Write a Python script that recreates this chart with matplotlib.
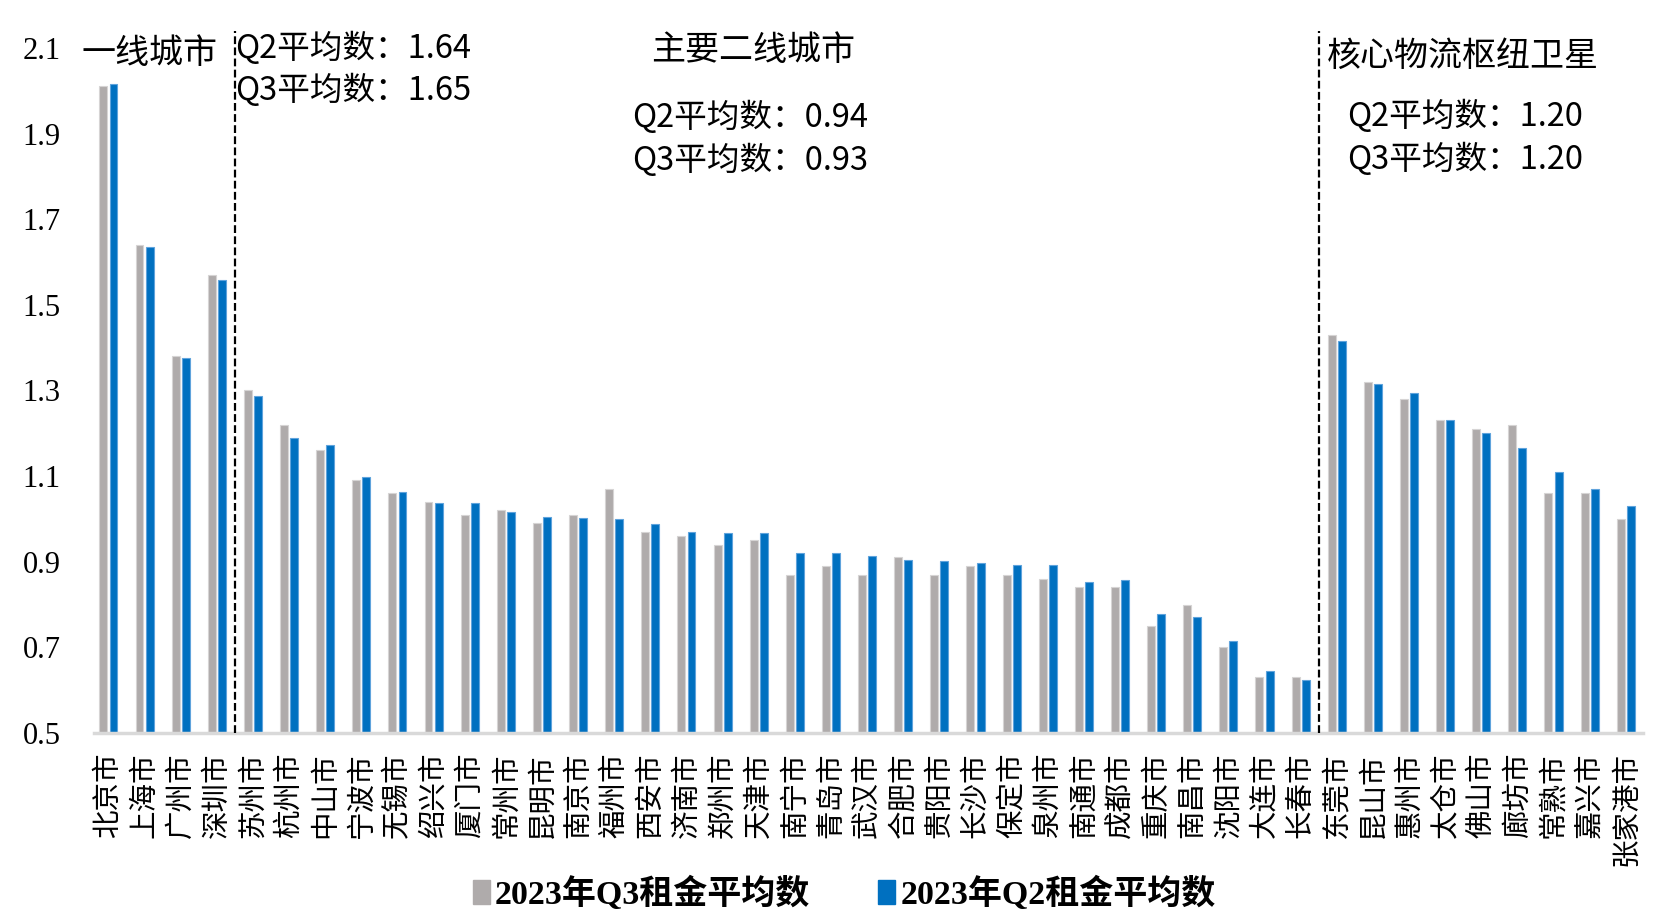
import matplotlib
matplotlib.use("Agg")
import matplotlib.pyplot as plt
import numpy as np
from matplotlib.patches import Patch

cities = ["北京市", "上海市", "广州市", "深圳市",
          "苏州市", "杭州市", "中山市", "宁波市", "无锡市", "绍兴市", "厦门市", "常州市",
          "昆明市", "南京市", "福州市", "西安市", "济南市", "郑州市", "天津市", "南宁市",
          "青岛市", "武汉市", "合肥市", "贵阳市", "长沙市", "保定市", "泉州市", "南通市",
          "成都市", "重庆市", "南昌市", "沈阳市", "大连市", "长春市",
          "东莞市", "昆山市", "惠州市", "太仓市", "佛山市", "廊坊市", "常熟市", "嘉兴市", "张家港市"]

q3 = [2.01, 1.64, 1.38, 1.57,
      1.30, 1.22, 1.16, 1.09, 1.06, 1.04, 1.01, 1.02,
      0.99, 1.01, 1.07, 0.97, 0.96, 0.94, 0.95, 0.87,
      0.89, 0.87, 0.91, 0.87, 0.89, 0.87, 0.86, 0.84,
      0.84, 0.75, 0.80, 0.70, 0.63, 0.63,
      1.43, 1.32, 1.28, 1.23, 1.21, 1.22, 1.06, 1.06, 1.00]

q2 = [2.015, 1.635, 1.375, 1.558,
      1.288, 1.190, 1.172, 1.098, 1.062, 1.038, 1.036, 1.015,
      1.004, 1.002, 1.000, 0.987, 0.969, 0.967, 0.966, 0.920,
      0.920, 0.913, 0.904, 0.902, 0.898, 0.893, 0.892, 0.852,
      0.858, 0.779, 0.772, 0.714, 0.645, 0.624,
      1.415, 1.316, 1.293, 1.230, 1.201, 1.166, 1.109, 1.071, 1.029]

legend_labels = ["2023年Q3租金平均数", "2023年Q2租金平均数"]
group_titles = ["一线城市", "主要二线城市", "核心物流枢纽卫星"]
group_notes = [["Q2平均数：1.64", "Q3平均数：1.65"],
               ["Q2平均数：0.94", "Q3平均数：0.93"],
               ["Q2平均数：1.20", "Q3平均数：1.20"]]
yticks = [0.5, 0.7, 0.9, 1.1, 1.3, 1.5, 1.7, 1.9, 2.1]

GRAY = "#AFABAB"
BLUE = "#0070C0"
CJK = ["Noto Sans CJK SC", "DejaVu Sans"]
SERIF_CJK = ["Liberation Serif", "Noto Sans CJK SC"]

fig = plt.figure(figsize=(16.78, 9.22), dpi=100)
ax = fig.add_axes([0.056, 0.205, 0.923, 0.743])

x = np.arange(len(cities))
w = 0.22
ax.bar(x - 0.14, q3, width=w, bottom=0, color=GRAY, edgecolor="#D6D4D4", linewidth=0.8, zorder=2)
ax.bar(x + 0.14, q2, width=w, bottom=0, color=BLUE, edgecolor="#5FA3DC", linewidth=0.8, zorder=2)

ax.set_ylim(0.5, 2.1)
ax.set_xlim(-0.40, len(cities) - 1 + 0.47)
ax.set_yticks(yticks)
ax.set_yticklabels([f"{v:.1f}" for v in yticks], family="Liberation Serif", fontsize=22)
ax.tick_params(axis="y", length=0, pad=24)

ax.set_xticks(x)
ax.set_xticklabels(cities, family=CJK, fontsize=20.5, rotation=90, ha="center", va="top")
ax.tick_params(axis="x", length=0, pad=14)

for s in ["top", "right", "left"]:
    ax.spines[s].set_visible(False)
ax.spines["bottom"].set_color("#D9D9D9")
ax.spines["bottom"].set_linewidth(2.5)
ax.spines["bottom"].set_zorder(3)

for xv in [3.5, 33.5]:
    ax.plot([xv, xv], [0.5, 2.14], color="black", linestyle=(0, (3.5, 1.5)), linewidth=1.6,
            clip_on=False, zorder=4)

title_kw = dict(family=CJK, fontsize=24.5, color="black", clip_on=False)
note_kw = dict(family=CJK, fontsize=23.5, color="black", clip_on=False)
ax.text(1.15, 2.088, group_titles[0], ha="center", va="center", **title_kw)
ax.text(3.52, 2.10, group_notes[0][0], ha="left", va="center", **note_kw)
ax.text(3.52, 2.00, group_notes[0][1], ha="left", va="center", **note_kw)

ax.text(17.85, 2.095, group_titles[1], ha="center", va="center", **title_kw)
ax.text(14.5, 1.938, group_notes[1][0], ha="left", va="center", **note_kw)
ax.text(14.5, 1.838, group_notes[1][1], ha="left", va="center", **note_kw)

ax.text(33.72, 2.08, group_titles[2], ha="left", va="center", **title_kw)
ax.text(34.3, 1.94, group_notes[2][0], ha="left", va="center", **note_kw)
ax.text(34.3, 1.84, group_notes[2][1], ha="left", va="center", **note_kw)

handles = [Patch(facecolor=GRAY, edgecolor=GRAY), Patch(facecolor=BLUE, edgecolor=BLUE)]
fig.legend(handles, legend_labels, loc="center", bbox_to_anchor=(0.503, 0.031), ncol=2,
           frameon=False, handlelength=0.5, handleheight=0.7, handletextpad=0.15,
           columnspacing=2.0, prop=dict(family=SERIF_CJK, weight="bold", size=24.5))

fig.savefig("out.png", dpi=100)
